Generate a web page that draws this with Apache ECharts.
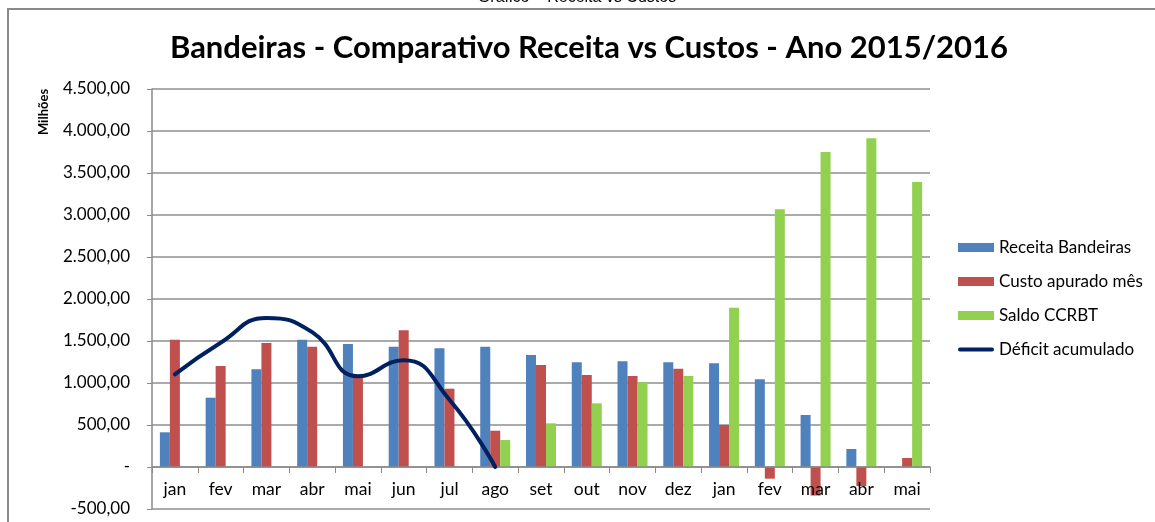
<!DOCTYPE html>
<html><head><meta charset="utf-8">
<script src="https://cdn.jsdelivr.net/npm/echarts@6/dist/echarts.min.js"></script>
<style>html,body{margin:0;padding:0;background:#fff}#c{width:1155px;height:522px}</style>
</head><body><div id="c"></div>
<script>
const categories = ['jan','fev','mar','abr','mai','jun','jul','ago','set','out','nov','dez','jan','fev','mar','abr','mai'];
const receita = [413, 825, 1163, 1515, 1464, 1432, 1413, 1432, 1333, 1246, 1258, 1246, 1234, 1044, 619, 214, 0];
const custo = [1515, 1202, 1476, 1432, 1090, 1627, 932, 432, 1214, 1095, 1083, 1171, 500, -139, -340, -226, 107];
const saldo = [null, null, null, null, null, null, null, 321, 520, 758, 1008, 1083, 1897, 3067, 3750, 3913, 3393];
const deficit = [1103, 1480, 1775, 1605, 1080, 1272, 800, 0, null, null, null, null, null, null, null, null, null];
const yTicks = {min: -500, max: 4500, step: 500};

function fmt(v){
  if (v === 0) return '-';
  const neg = v < 0; let a = Math.abs(v);
  let s = String(Math.round(a)).replace(/\B(?=(\d{3})+(?!\d))/g, '.');
  return (neg ? '-' : '') + s + ',00';
}
const chart = echarts.init(document.getElementById('c'), null, {renderer: 'canvas'});
const F = 'Lato, "Open Sans", sans-serif';
const gridTop = 89, gridBottom = 13, H = 522;
const plotH = H - gridTop - gridBottom;
const zeroOffset = plotH * (0 - yTicks.min) / (yTicks.max - yTicks.min);
chart.setOption({
  animation: false,
  backgroundColor: '#fff',
  title: {
    text: 'Bandeiras - Comparativo Receita vs Custos - Ano 2015/2016',
    left: 584, textAlign: 'center', top: 27,
    textStyle: {fontFamily: F, fontWeight: 'bold', fontSize: 31, color: '#000'}
  },
  graphic: [
    {type: 'rect', shape: {x: 8, y: 9, width: 1300, height: 700}, style: {fill: 'none', stroke: '#8a8a8a', lineWidth: 2}, silent: true, z: 100},
    {type: 'text', x: 577, y: 6, style: {text: 'Gráfico – Receita vs Custos', fontFamily: 'Liberation Sans, Arial, sans-serif', fontSize: 16, fill: '#000', align: 'center', verticalAlign: 'bottom'}},
    {type: 'text', x: 44, y: 112, rotation: Math.PI/2, style: {text: 'Milhões', fontFamily: F, fontWeight: 'bold', fontSize: 13, fill: '#000', align: 'center', verticalAlign: 'middle'}}
  ],
  legend: {
    orient: 'vertical', left: 953, top: 234, itemWidth: 36, itemHeight: 9, itemGap: 17,
    textStyle: {fontFamily: F, fontSize: 17, color: '#000'},
    data: [
      {name: 'Receita Bandeiras', icon: 'rect'},
      {name: 'Custo apurado mês', icon: 'rect'},
      {name: 'Saldo CCRBT', icon: 'rect'},
      {name: 'Déficit acumulado', icon: 'path://M2,0 h32 a2,2 0 0 1 0,4 h-32 a2,2 0 0 1 0,-4 z', itemStyle: {color: '#002060'}}
    ]
  },
  grid: {left: 152, right: 225, top: gridTop, bottom: gridBottom, outerBoundsMode: 'none', containLabel: false},
  xAxis: {
    type: 'category', data: categories, position: 'bottom', offset: -zeroOffset, z: 3,
    axisLine: {onZero: false, lineStyle: {color: '#8a8a8a', width: 1.5}},
    axisTick: {show: true, length: 6, lineStyle: {color: '#8a8a8a'}},
    axisLabel: {fontFamily: F, fontSize: 17.5, color: '#000', margin: 13, interval: 0}
  },
  yAxis: {
    type: 'value', min: yTicks.min, max: yTicks.max, interval: yTicks.step,
    axisLine: {show: true, lineStyle: {color: '#8a8a8a', width: 1.5}},
    axisTick: {show: true, length: 5, lineStyle: {color: '#8a8a8a'}},
    axisLabel: {fontFamily: F, fontSize: 17, color: '#000', margin: 22, formatter: fmt},
    splitLine: {lineStyle: {color: '#8e8e8e', width: 1.5}}
  },
  series: [
    {name: 'Receita Bandeiras', type: 'bar', data: receita, barWidth: 10, barGap: '0%', itemStyle: {color: '#4F81BD'}},
    {name: 'Custo apurado mês', type: 'bar', data: custo, barWidth: 10, barGap: '0%', itemStyle: {color: '#C0504D'}},
    {name: 'Saldo CCRBT', type: 'bar', data: saldo, barWidth: 10, barGap: '0%', itemStyle: {color: '#92D050'}},
    {name: 'Déficit acumulado', type: 'line', data: deficit, smooth: 0.5, symbol: 'none', connectNulls: false,
     lineStyle: {color: '#002060', width: 4, cap: 'round'}, itemStyle: {color: '#002060'}, z: 5}
  ]
});
</script></body></html>
